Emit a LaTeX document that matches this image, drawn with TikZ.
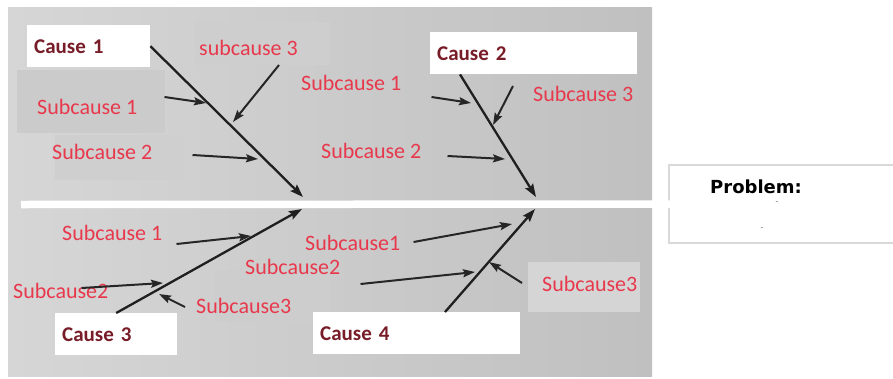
\documentclass[tikz,border=0pt]{standalone}
\usepackage{fontspec}
\setmainfont{Carlito}
\newfontfamily\probfont{DejaVu Sans}
\usepackage{tikz}
\usetikzlibrary{positioning,arrows.meta}
\usetikzlibrary{calc}
\definecolor{subred}{RGB}{232,56,76}
\definecolor{causered}{RGB}{120,28,40}
\definecolor{panelL}{RGB}{214,214,214}
\definecolor{panelR}{RGB}{192,192,192}
\definecolor{patch}{RGB}{203,203,203}

\begin{document}
\begin{tikzpicture}[x=1pt, y=-1pt, font=\fontsize{22}{24}\selectfont,
  cause/.style={fill=white, text=causered, font=\fontsize{21}{24}\selectfont\bfseries, inner xsep=7pt, inner ysep=0pt, minimum height=42pt, align=left, anchor=north west},
  sub/.style={text=subred, inner sep=0pt, anchor=west},
  bone/.style={draw=black!88, line width=2.3pt, -{Stealth[length=13pt, width=9pt, inset=2pt]}},
  arr/.style={draw=black!85, line width=2pt, -{Stealth[length=12pt, width=8pt, inset=2pt]}},
  spine/.style={draw=white, line width=7.5pt},
  probbox/.style={draw=black!15, line width=2pt, fill=white, minimum width=240pt, minimum height=78pt, anchor=west}]
\useasboundingbox (0,0) rectangle (893,378);
% background panel and label patches
\shade[left color=panelL, right color=panelR] (8,7) rectangle (652,376);
\fill[patch] (17,70) rectangle (165,133);
\fill[patch!60!panelL] (55,135) rectangle (185,180);
\fill[patch!70!panelL] (195,22) rectangle (330,65);
\fill[patch!80!white] (528,262) rectangle (640,312);
\fill[patch!80!panelL] (215,270) rectangle (330,322);
% problem head
\node[probbox] (pb) at (668,204) {};
\node[font=\probfont\fontsize{18}{20}\selectfont\bfseries, anchor=base west, inner sep=0pt] (pt) at (710,193) {Problem:};
\node[font=\small, text=black!55, inner sep=0pt] (pd1) at (777,203) {-};
\node[font=\small, text=black!55, inner sep=0pt] (pd2) at (762,229) {-};
\coordinate (sp) at (21,204.5);
\draw[spine] (sp) -- ([xshift=3pt]pb.west);
% causes
\node[cause, text width=109pt] (c1) at (27,25) {Cause 1};
\node[cause, text width=193pt] (c2) at (430,32) {Cause 2};
\node[cause, text width=108pt] (c3) at (55,313) {Cause 3};
\node[cause, text width=193pt] (c4) at (313,312) {Cause 4};
% sub causes
\node[sub] (s13) at (199,48) {subcause 3};
\node[sub] (s11) at (37,107) {Subcause 1};
\node[sub] (s12) at (52,152) {Subcause 2};
\node[sub] (s21) at (301,83) {Subcause 1};
\node[sub] (s23) at (533,94) {Subcause 3};
\node[sub] (s22) at (321,151) {Subcause 2};
\node[sub] (s31) at (62,233) {Subcause 1};
\node[sub] (s32) at (13,291) {Subcause2};
\node[sub] (s33) at (196,306) {Subcause3};
\node[sub] (s41) at (305,243) {Subcause1};
\node[sub] (s42) at (245,267) {Subcause2};
\node[sub] (s43) at (542,284) {Subcause3};
% heads on the spine and tips on the bones
\coordinate (h1) at (303,197);
\coordinate (h2) at (536,197);
\coordinate (h3) at (302,209);
\coordinate (h4) at (535,209);
\coordinate (t13) at (233,122);
\coordinate (t11) at (206,103);
\coordinate (t12) at (258,159);
\coordinate (t21) at (471,103);
\coordinate (t23) at (493,125);
\coordinate (t22) at (505,159);
\coordinate (t31) at (251,236);
\coordinate (t32) at (163,283);
\coordinate (t33) at (159,294);
\coordinate (t41) at (512,224);
\coordinate (t42) at (475,272);
\coordinate (t43) at (489,262);
\draw[bone] (c1.east) -- (h1);
\draw[bone] ([xshift=30pt]c2.south west) -- (h2);
\draw[bone] (c3.north) -- (h3);
\draw[bone] ([xshift=132pt]c4.north west) -- (h4);
\foreach \u/\off/\v in {s13.east/{-19,17}/t13, s11.east/{27,-10}/t11, s12.east/{40,3}/t12,
  s21.east/{30,14}/t21, s23.west/{-20,-8}/t23, s22.east/{26,5}/t22,
  s31.east/{14,11}/t31, s32.east/{-27,-3}/t32, s33.west/{-11,1}/t33,
  s41.east/{13,-1}/t41, s42.east/{20,17}/t42, s43.west/{-20,-1}/t43}
  \draw[arr] ($(\u)+(\off)$) -- (\v);
\end{tikzpicture}
\end{document}
